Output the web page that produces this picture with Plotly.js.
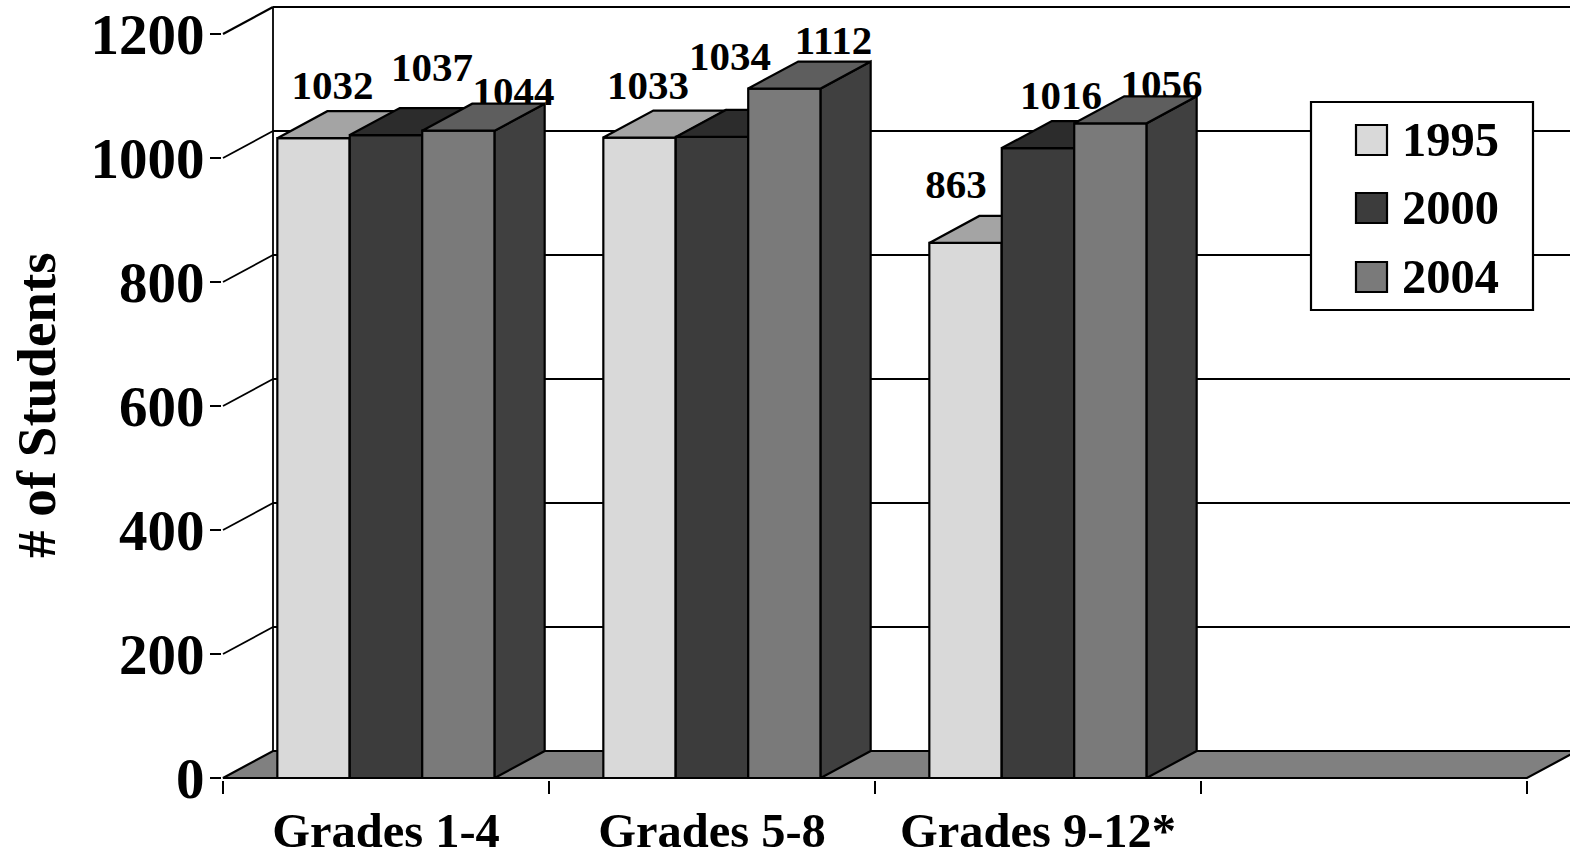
<!DOCTYPE html>
<html>
<head>
<meta charset="utf-8">
<script src="https://cdn.plot.ly/plotly-3.0.1.min.js"></script>
<style>html,body{margin:0;padding:0;background:#fff;overflow:hidden}#chart{width:1570px;height:852px}</style>
</head>
<body>
<div id="chart"></div>
<script>
const categories = ["Grades 1-4", "Grades 5-8", "Grades 9-12*"];
const seriesNames = ["1995", "2000", "2004"];
const values1995 = [1032, 1033, 863];
const values2000 = [1037, 1034, 1016];
const values2004 = [1044, 1112, 1056];
const yTicks = [0, 200, 400, 600, 800, 1000, 1200];
const yTitle = "# of Students";

// style and layout constants
const frontColors = ["#d9d9d9", "#3c3c3c", "#7a7a7a"];
const topColors = ["#a4a4a4", "#2c2c2c", "#5e5e5e"];
const sideColor = "#404040";
const floorColor = "#808080";
const FONT = '"Liberation Serif","Times New Roman",serif';
const W = 1570, H = 852, L = 223, R = 43, T = 34, B = 74;
const pxX = (W - L - R) / 4, pxY = (H - T - B) / 1200;
const depthX = 50 / pxX, depthY = 27 / pxY;
const BAR = (2 / 3) / 3;
const LW = 2.2, GRID_LW = 1.8;
// label offsets from each bar's centre / top, in pixels
const labelShiftX = [[19, 8.5, -9.5], [46, 18, 23], [55, 49, 51]];
const labelShiftY = [[49, 49, 55], [64, 77, 49], [36, 45, 36]];

const allValues = [values1995, values2000, values2004];
const traces = [];

// paper-space helpers: axis values converted to fractions of the plot area
const paperX = v => v / 4, paperY = v => v / 1200;
const px = x => (x - L) / (W - L - R), py = y => (H - B - y) / (H - T - B);

// floor and back wall: the wall runs past the plot area, so it is drawn as shapes below the traces
const shapes = [];
const wallLine = {color: "#000", width: GRID_LW};
const xEnd = 4 + 2 * depthX;
shapes.push({type: "path", xref: "paper", yref: "paper", layer: "below", fillcolor: floorColor, line: {color: "#000", width: LW},
  path: "M" + paperX(0) + "," + paperY(0) + "L" + paperX(depthX) + "," + paperY(depthY) +
        "L" + paperX(xEnd) + "," + paperY(depthY) + "L" + paperX(xEnd - depthX * 2) + "," + paperY(depthY) +
        "L" + paperX(4 + depthX) + "," + paperY(depthY) + "L" + paperX(4) + "," + paperY(0) + "Z"});
yTicks.filter(v => v > 0).forEach(v => {
  const top = v === 1200 ? {color: "#000", width: LW} : wallLine;
  shapes.push({type: "line", xref: "paper", yref: "paper", layer: "below", line: top,
    x0: paperX(0), y0: paperY(v), x1: paperX(depthX), y1: paperY(v + depthY)});
  shapes.push({type: "line", xref: "paper", yref: "paper", layer: "below", line: top,
    x0: paperX(depthX), y0: paperY(v + depthY), x1: paperX(xEnd), y1: paperY(v + depthY)});
});
shapes.push({type: "line", xref: "paper", yref: "paper", layer: "below", line: wallLine,
  x0: paperX(depthX), y0: paperY(depthY), x1: paperX(depthX), y1: paperY(1200 + depthY)});

// data labels sit behind the bars
allValues.forEach((vals, s) => {
  traces.push({type: "scatter", mode: "text",
    x: vals.map((v, i) => i + 0.5 + (s - 1) * BAR + labelShiftX[s][i] / pxX),
    y: vals.map((v, i) => v + labelShiftY[s][i] / pxY),
    text: vals.map(String), textposition: "middle center",
    textfont: {family: FONT, size: 41, color: "#000", weight: 700},
    cliponaxis: false, hoverinfo: "skip", showlegend: false, zorder: 0});
});

// bars: painted left to right so that each front hides the previous bar's faces
allValues.forEach((vals, s) => {
  const z = 1 + s * 2;
  traces.push({type: "bar", name: seriesNames[s], x: vals.map((v, i) => i + 0.5), y: vals,
    offset: (s - 1.5) * BAR, width: BAR,
    marker: {color: frontColors[s], line: {color: "#000", width: LW}}, showlegend: false, zorder: z});
  const tx = [], ty = [], sx = [], sy = [];
  vals.forEach((v, i) => {
    const a = i + 0.5 + (s - 1.5) * BAR, b = a + BAR;
    tx.push(a, a + depthX, b + depthX, b, a, null);
    ty.push(v, v + depthY, v + depthY, v, v, null);
    sx.push(b, b + depthX, b + depthX, b, b, null);
    sy.push(v, v + depthY, depthY, 0, v, null);
  });
  traces.push({type: "scatter", mode: "lines", x: sx, y: sy, fill: "toself", fillcolor: sideColor,
    line: {color: "#000", width: LW}, hoverinfo: "skip", showlegend: false, zorder: z + 1});
  traces.push({type: "scatter", mode: "lines", x: tx, y: ty, fill: "toself", fillcolor: topColors[s],
    line: {color: "#000", width: LW}, hoverinfo: "skip", showlegend: false, zorder: z + 1});
});

// legend box
shapes.push({type: "rect", xref: "paper", yref: "paper", x0: px(1311), x1: px(1533), y0: py(310), y1: py(102),
  fillcolor: "#fff", line: {color: "#000", width: LW}, layer: "above"});
const annotations = [];
[140, 208, 277].forEach((yc, s) => {
  shapes.push({type: "rect", xref: "paper", yref: "paper", x0: px(1356), x1: px(1387), y0: py(yc + 15), y1: py(yc - 15),
    fillcolor: frontColors[s], line: {color: "#000", width: LW}, layer: "above"});
  annotations.push({xref: "paper", yref: "paper", x: px(1401), y: py(yc - 1), xanchor: "left", yanchor: "middle",
    text: "<b>" + seriesNames[s] + "</b>", showarrow: false, borderpad: 0, font: {family: FONT, size: 48.5, color: "#000"}});
});
annotations.push({xref: "paper", yref: "paper", x: px(36), y: py(405), xanchor: "center", yanchor: "middle", textangle: -90,
  text: "<b>" + yTitle + "</b>", showarrow: false, borderpad: 0, font: {family: FONT, size: 55, color: "#000"}});

const layout = {
  width: W, height: H, margin: {l: L, r: R, t: T, b: B, pad: 0},
  paper_bgcolor: "#fff", plot_bgcolor: "rgba(0,0,0,0)", showlegend: false, barmode: "overlay",
  font: {family: FONT, color: "#000"},
  xaxis: {range: [0, 4], tickmode: "array", tickvals: categories.map((c, i) => i + 0.5), ticktext: categories.map(c => "<b>" + c + "</b>"),
    tickfont: {family: FONT, size: 48.5, color: "#000"}, ticks: "", ticklabelstandoff: 8, showgrid: false, zeroline: false,
    showline: true, linecolor: "#000", linewidth: 3,
    minor: {tickmode: "array", tickvals: [0, 1, 2, 3, 4], ticks: "outside", ticklen: 13, tickwidth: 2, tickcolor: "#000", showgrid: false}},
  yaxis: {range: [0, 1200], tickmode: "array", tickvals: yTicks, ticktext: yTicks.map(t => "<b>" + t + "</b>"),
    tickfont: {family: FONT, size: 57, color: "#000"}, ticks: "outside", ticklen: 11, tickwidth: 2, tickcolor: "#000", ticklabelstandoff: -6,
    showgrid: false, zeroline: false, showline: true, linecolor: "#000", linewidth: 2},
  shapes, annotations
};
Plotly.newPlot("chart", traces, layout, {displayModeBar: false, staticPlot: true});
</script>
</body>
</html>
